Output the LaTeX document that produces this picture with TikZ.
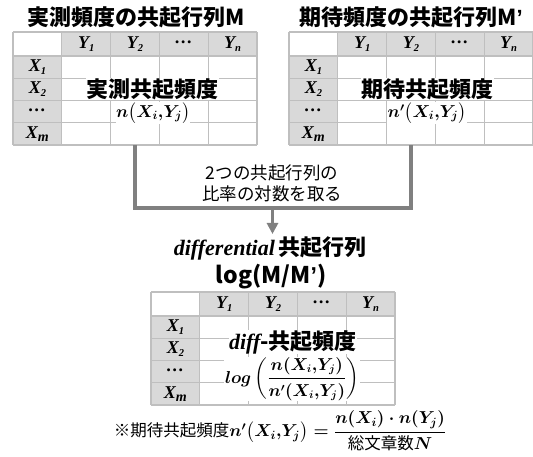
\documentclass[tikz,border=0pt]{standalone}
\usepackage{amsmath}
\usepackage{fontspec}
\usetikzlibrary{arrows.meta}
\newfontfamily\jp{Noto Sans CJK JP}
\newfontfamily\las{Liberation Sans}
\newfontfamily\tnr{Liberation Serif}
\definecolor{hdrfill}{HTML}{D9D9D9}
\definecolor{gridc}{HTML}{BFBFBF}
\definecolor{connc}{HTML}{808080}
\newcommand\fsA{\fontsize{17}{20}\selectfont}
\newcommand\fsB{\fontsize{22}{25}\selectfont}
\newcommand\fsC{\fontsize{16}{20}\selectfont}
\newcommand\fsD{\fontsize{16.5}{20}\selectfont}
\newsavebox\bxA
\newsavebox\bxB
\newsavebox\bxC
\newsavebox\bxD
\newcommand\Lab[2]{{\tnr\bfseries\itshape\fontsize{18}{20}\selectfont #1\raisebox{-0.35ex}{\fontsize{10.5}{10}\selectfont #2}}}
\newcommand\cotab[2]{%
\begin{scope}[shift={#2}]
\fill[hdrfill] (0,0) rectangle (244,24);
\fill[white] (0,0) rectangle (48.8,24);
\fill[hdrfill] (0,24) rectangle (48.8,113);
\foreach \i in {0,...,5} \draw[gridl] (\i*48.8,0) -- (\i*48.8,113);
\foreach \yy in {0,24,46.25,68.5,90.75,113} \draw[gridl] (0,\yy) -- (244,\yy);
\node[hd] (#1y1) at (73.2,12) {\Lab{Y}{1}};
\node[hd] (#1y2) at (122,12) {\Lab{Y}{2}};
\node[hd] (#1yd) at (170.8,12) {\Lab{…}{}};
\node[hd] (#1yn) at (219.6,12) {\Lab{Y}{n}};
\node[hd] (#1x1) at (24.4,35.1) {\Lab{X}{1}};
\node[hd] (#1x2) at (24.4,57.4) {\Lab{X}{2}};
\node[hd] (#1xd) at (24.4,79.6) {\Lab{…}{}};
\node[hd] (#1xm) at (24.4,101.9) {\Lab{X}{\fontsize{14}{14}\selectfont m}};
\coordinate (#1bot) at (122,113);
\end{scope}}
\tikzset{
  gridl/.style={draw=gridc,line width=1.1pt},
  hd/.style={inner sep=0pt},
  celltxt/.style={fill=white,inner sep=0.5pt},
  title/.style={inner sep=0pt,font=\jp\bfseries\fsB},
  conn/.style={draw=connc,line width=4pt},
  arr/.style={draw=connc,line width=3pt,-{Triangle[width=11pt,length=11pt]}}
}
\begin{document}
\sbox\bxA{\fsA\boldmath$n\bigl(X_i{,}Y_j\bigr)$}%
\sbox\bxB{\fsA\boldmath$n'\bigl(X_i{,}Y_j\bigr)$}%
\sbox\bxC{\fsC\boldmath$\displaystyle log\left(\frac{n(X_i{,}Y_j)}{n'(X_i{,}Y_j)}\right)$}%
\sbox\bxD{\fsD{\jp ※期待共起頻度}\boldmath$n'\bigl(X_i{,}Y_j\bigr)=\dfrac{n(X_i)\cdot n(Y_j)}{\mbox{\jp\fsD 総文章数}N}$}%
\begin{tikzpicture}[x=1pt,y=-1pt]
\useasboundingbox (0,0) rectangle (533,457);
\node[title] (tL) at (136,17) {実測頻度の共起行列M};
\node[title] (tR) at (411,17) {期待頻度の共起行列M{\las ’}};
\cotab{L}{(13,32)}
\cotab{R}{(289,32)}
\cotab{B}{(151,292)}
\node[celltxt,font=\jp\bfseries\fsB] (lt) at (152,89) {実測共起頻度};
\node[celltxt] (lf) at (153,113) {\usebox\bxA};
\node[celltxt,font=\jp\bfseries\fsB] (rt) at (427,89) {期待共起頻度};
\node[celltxt] (rf) at (427,113) {\usebox\bxB};
\coordinate (J) at (272.5,208);
\coordinate (T) at (272.5,234);
\draw[conn] (Lbot) |- (J) -| (Rbot);
\draw[arr] (J) -- (T);
\node[align=center,inner sep=0pt,font=\jp\fontsize{17.5}{21}\selectfont] (mid) at (272,183) {2つの共起行列の\\比率の対数を取る};
\node[inner sep=0pt] (dt) at (270,248) {{\tnr\bfseries\itshape\fsB differential} {\jp\bfseries\fsB 共起行列}};
\node[inner sep=0pt,font=\jp\bfseries\fontsize{23}{25}\selectfont] (lg) at (271,277) {log(M/M{\las ’})};
\node[celltxt] (bt) at (293,342) {{\tnr\bfseries\itshape\fsB diff}{\jp\bfseries\fsB -共起頻度}};
\node[celltxt] (bf) at (292,379) {\usebox\bxC};
\node[inner sep=0pt] (fn) at (280,431) {\usebox\bxD};
\end{tikzpicture}
\end{document}
